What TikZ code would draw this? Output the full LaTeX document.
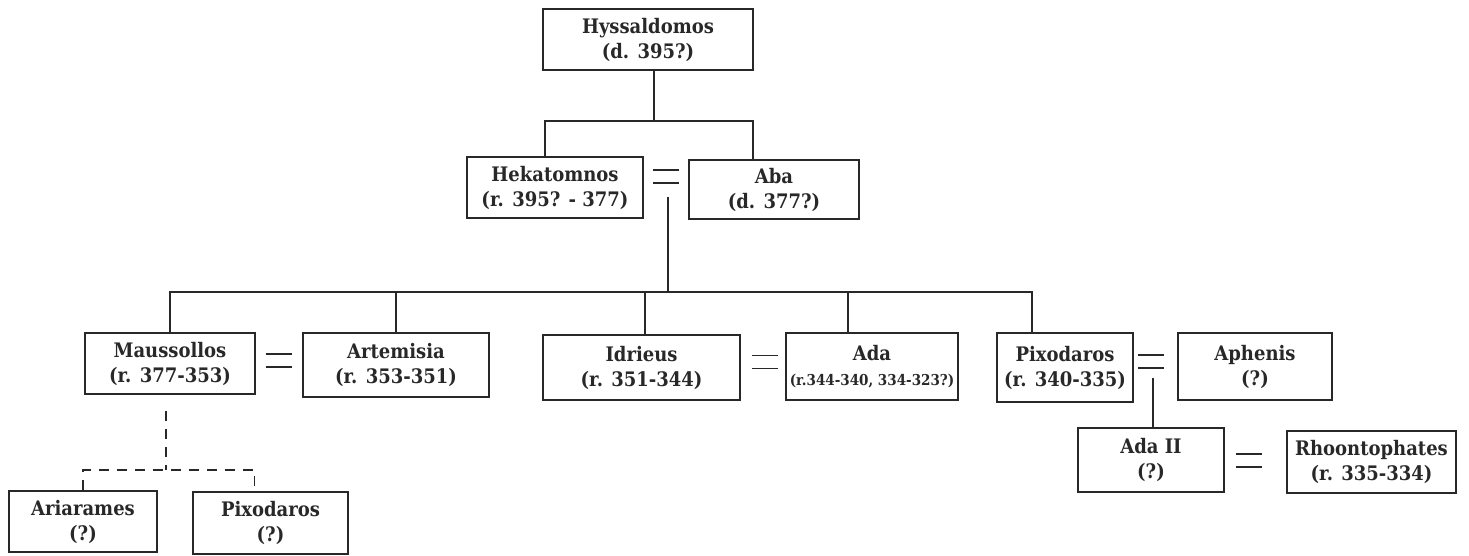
\documentclass[tikz,border=0pt]{standalone}
\usepackage{fontspec}
\setmainfont{DejaVu Serif}
\newfontfamily\slab{DejaVu Serif Condensed}
\usepackage{tikz}
\usetikzlibrary{positioning}
\definecolor{ink}{RGB}{40,40,40}
\tikzset{
  psn/.style ={draw=ink, line width=1.6pt, align=center, text=ink,
               font=\slab\bfseries\fontsize{20}{25}\selectfont, inner sep=0pt},
  ln/.style  ={draw=ink, line width=1.5pt},
  dln/.style ={draw=ink, line width=1.5pt, dash pattern=on 10pt off 8pt},
  wed/.pic   ={\draw[ln] (-13,-6.5) -- (13,-6.5) (-13,6.5) -- (13,6.5);},
}
\begin{document}
\begin{tikzpicture}[x=1pt,y=-1pt]
\useasboundingbox (0,0) rectangle (1469,556);
% first generation
\node[psn,minimum width=210pt,minimum height=61pt] (hyss) at (648,39.5) {Hyssaldomos\\(d. 395?)};
% second generation
\node[psn,minimum width=176pt,minimum height=61pt] (hek) at (555,187.5) {Hekatomnos\\(r. 395? - 377)};
\node[psn,minimum width=170pt,minimum height=59pt] (aba) at (774,189.5) {Aba\\(d. 377?)};
% third generation
\node[psn,minimum width=170pt,minimum height=61pt] (maus) at (170,363.5) {Maussollos\\(r. 377-353)};
\node[psn,minimum width=186pt,minimum height=64pt] (art) at (396,365) {Artemisia\\(r. 353-351)};
\node[psn,minimum width=197pt,minimum height=65pt] (idr) at (641.5,367.5) {Idrieus\\(r. 351-344)};
\node[psn,minimum width=172pt,minimum height=67pt] (ada) at (872,366.5) {Ada\\{\fontsize{15}{20}\selectfont(r.344-340, 334-323?)}};
\node[psn,minimum width=136pt,minimum height=69pt] (pix) at (1065,367.5) {Pixodaros\\(r. 340-335)};
\node[psn,minimum width=154pt,minimum height=67pt] (aph) at (1255,366.5) {Aphenis\\(?)};
% fourth generation
\node[psn,minimum width=148pt,minimum height=61pt] (ari) at (83,521.5) {Ariarames\\(?)};
\node[psn,minimum width=155pt,minimum height=62pt] (pixb) at (270.5,523) {Pixodaros\\(?)};
\node[psn,minimum width=146pt,minimum height=64pt] (ada2) at (1151,460) {Ada II\\(?)};
\node[psn,minimum width=169pt,minimum height=62pt] (rhoo) at (1371.5,462) {Rhoontophates\\(r. 335-334)};

% marriages
\coordinate (w1) at (666,176.5);
\coordinate (w2) at (278.5,360.5);
\coordinate (w3) at (765,362);
\coordinate (w4) at (1151,361.5);
\coordinate (w5) at (1249,460.5);
\foreach \i in {1,...,5} \pic at (w\i) {wed};

% descent lines
\coordinate (hj) at (654,121);
\draw[ln] (hyss.south -| hj) -- (hj);
\draw[ln] ([xshift=-10pt]hek.north) |- (hj) -| ([xshift=-21pt]aba.north);

\coordinate (bar) at (668,292);
\draw[ln] (w1) ++(2,20.5) -- (bar);
\draw[ln] (maus.north) |- (bar) -| ([xshift=-33pt]pix.north);
\draw[ln] (art.north) -- (art.north |- bar);
\draw[ln] ([xshift=3.5pt]idr.north) -- ++(0,-43);
\draw[ln] ([xshift=-24pt]ada.north) -- ++(0,-41);

\coordinate (dj) at (166,470);
\draw[dln] (maus.south) ++(-4,16) -- (dj);
\draw[dln] (ari.north) |- (dj) -| ([xshift=-16pt]pixb.north);

\draw[ln] (w4) ++(2,16.5) -- ([xshift=2pt]ada2.north);
\end{tikzpicture}
\end{document}
